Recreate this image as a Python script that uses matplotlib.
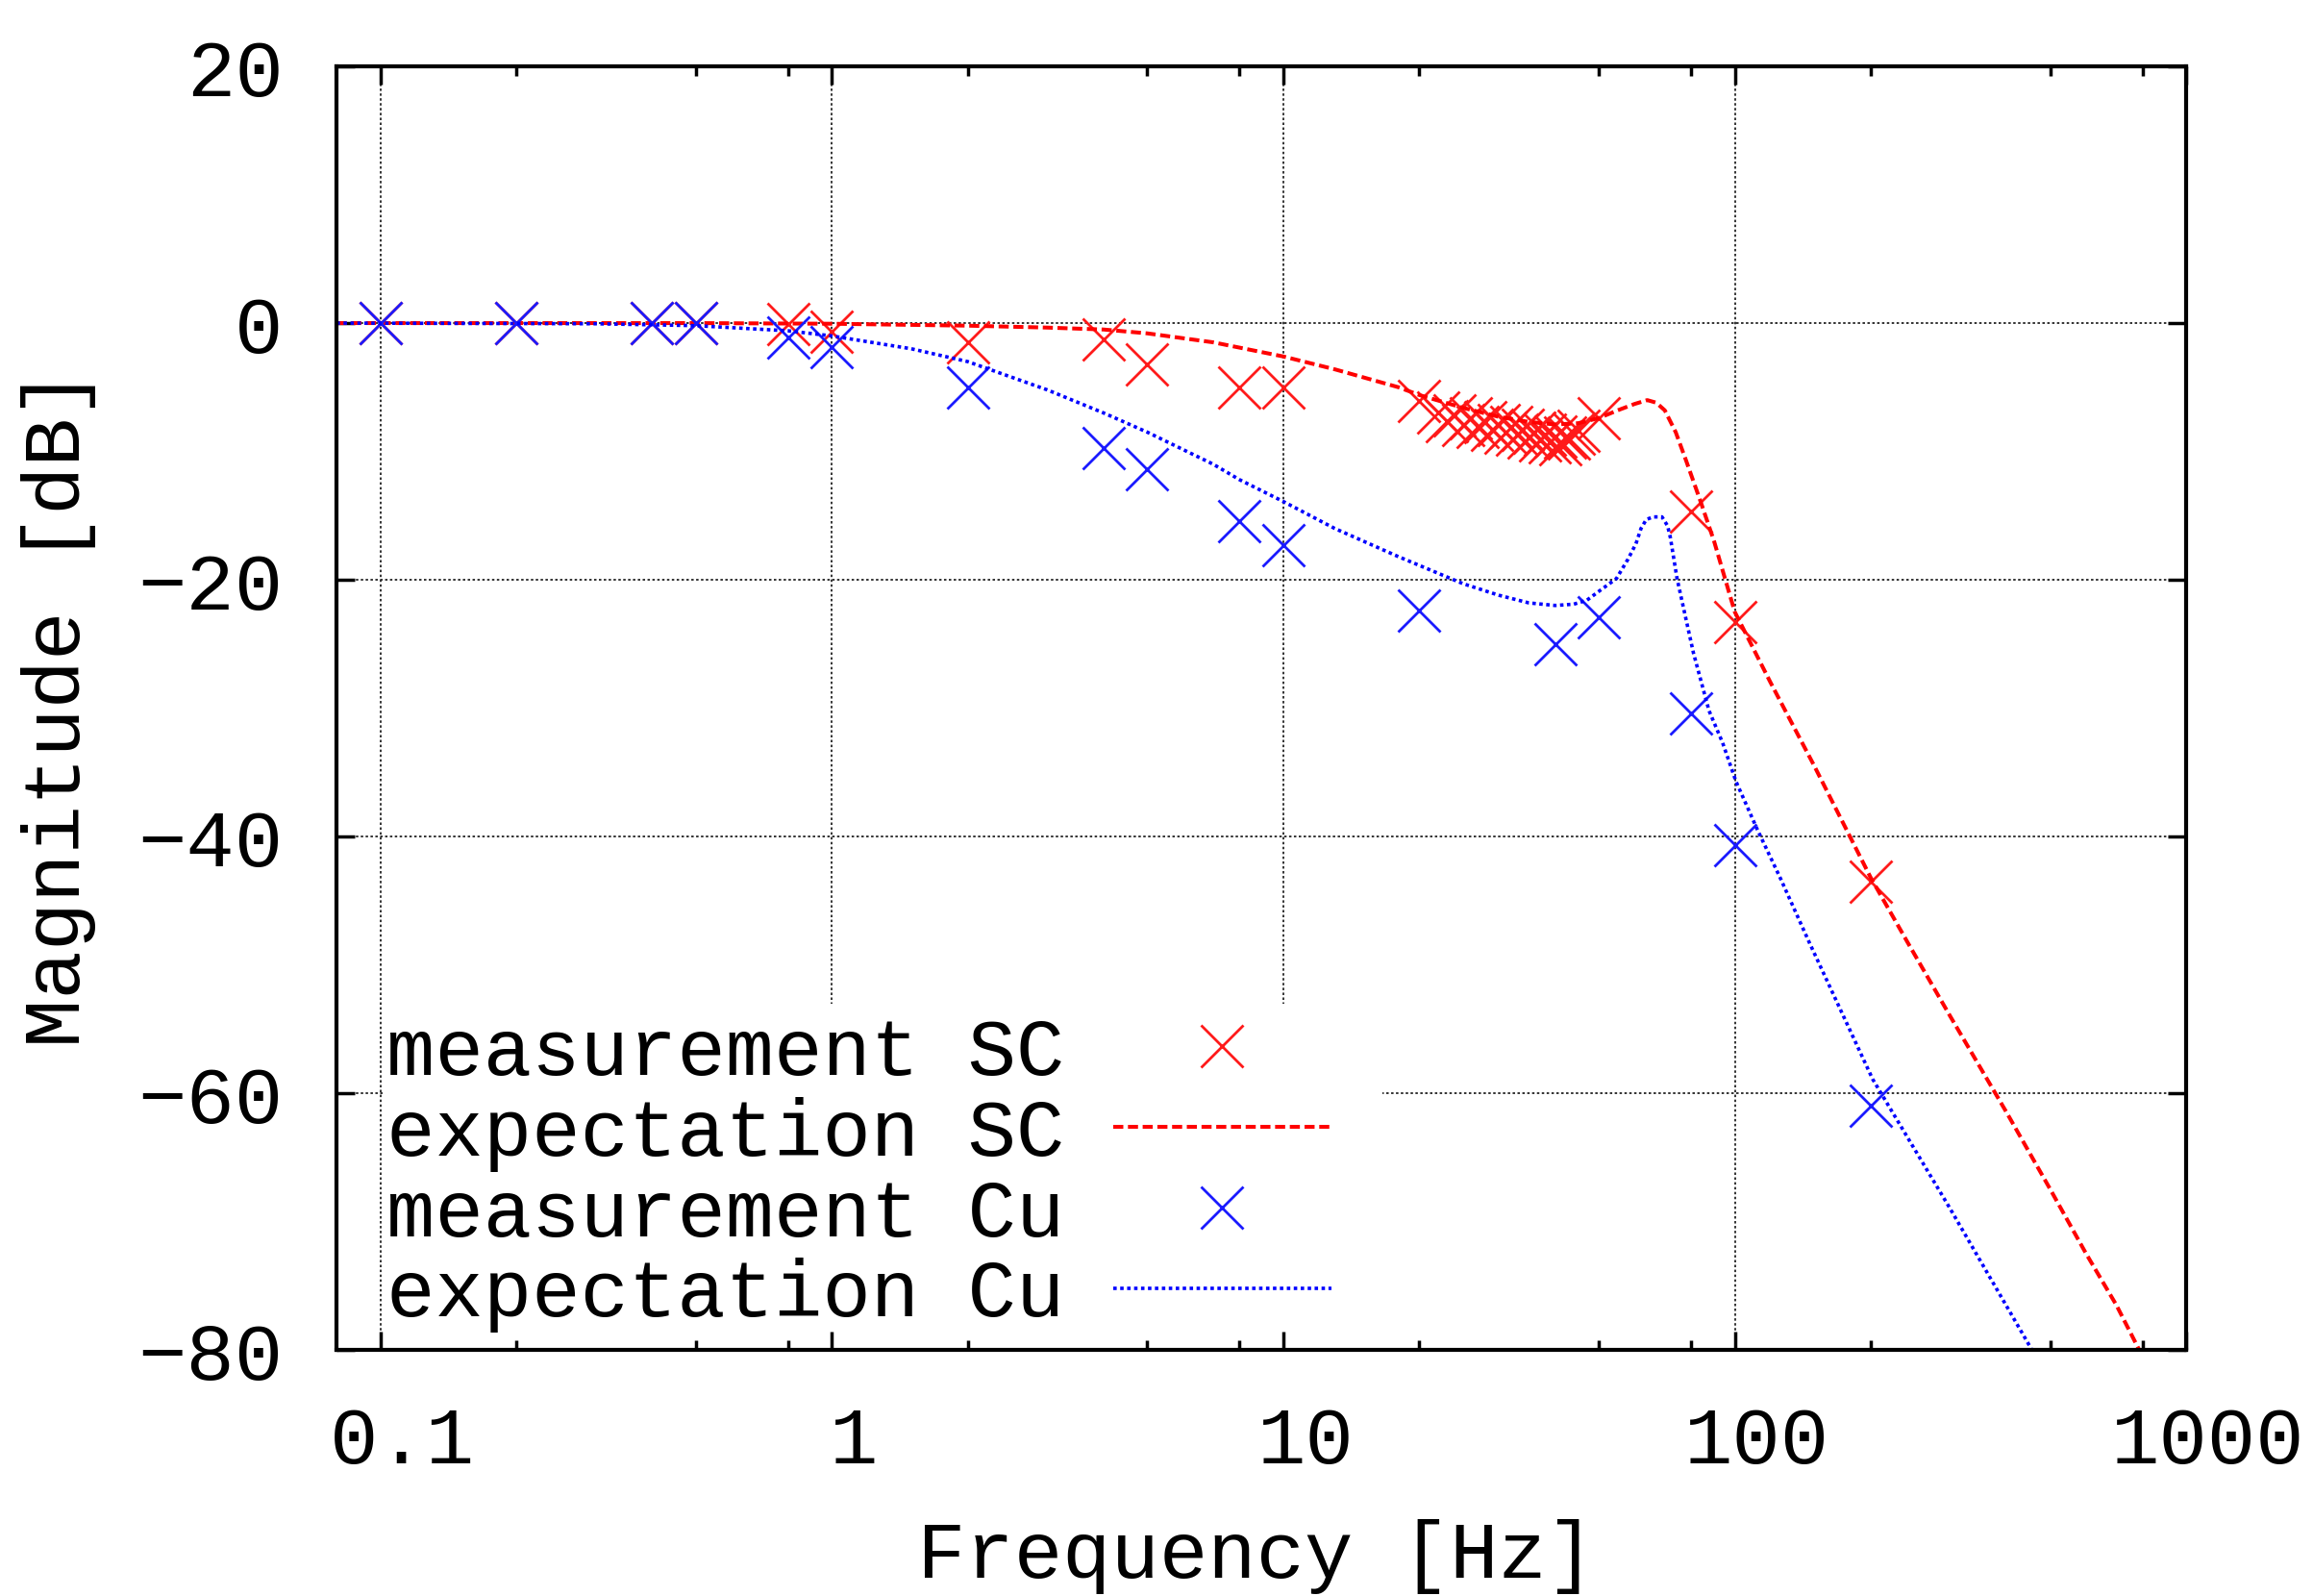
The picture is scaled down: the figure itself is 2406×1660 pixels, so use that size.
import matplotlib.pyplot as plt
from matplotlib.patches import Rectangle
from matplotlib.ticker import FixedLocator, FixedFormatter, NullFormatter
from matplotlib.transforms import ScaledTranslation

# ------------------------------------------------------------------
# data (frequency in Hz, magnitude in dB)
# ------------------------------------------------------------------
sc_meas_f = [0.1, 0.2, 0.4, 0.5, 0.8, 1, 2, 4, 5, 8, 10, 20,
             22, 23, 24, 25, 26, 27, 28, 29, 30, 31, 32, 33,
             34, 35, 36, 37, 38, 39, 40, 41, 42, 43, 44, 45,
             50, 80, 100, 200]
sc_meas_db = [0.0, 0.0, 0.0, 0.0, -0.1, -0.7, -1.5, -1.25, -3.25, -5.0, -5.0, -6.1,
              -7.0, -7.6, -7.2, -7.9, -7.4, -8.1, -7.7, -8.3, -7.9, -8.5, -8.1, -8.7,
              -8.3, -8.9, -8.5, -9.1, -8.7, -9.3, -8.8, -9.4, -8.9, -9.0, -8.6, -8.4,
              -7.4, -14.7, -23.3, -43.5]

sc_exp_f = [0.08, 0.5, 1, 2, 3, 4, 5, 7, 10, 13, 18, 20, 25, 30, 35, 40, 45,
            50, 55, 60, 64, 67, 70, 74, 78, 84, 90, 100, 120, 150, 200, 241,
            300, 400, 500, 600, 700, 800]
sc_exp_db = [0.0, 0.0, -0.05, -0.2, -0.35, -0.5, -0.8, -1.5, -2.6, -3.6, -5.0, -5.6,
             -6.6, -7.3, -7.7, -7.9, -7.8, -7.4, -6.8, -6.3, -6.0, -6.2, -6.8, -8.5,
             -10.7, -13.9, -17.0, -22.5, -28.0, -34.5, -43.2, -48.2, -54.0, -61.5,
             -67.5, -72.5, -76.5, -80.5]

cu_meas_f = [0.1, 0.2, 0.4, 0.5, 0.8, 1, 2, 4, 5, 8, 10, 20, 40, 50, 80, 100, 200]
cu_meas_db = [0.0, 0.0, 0.0, 0.0, -1.1, -1.9, -5.0, -9.75, -11.4, -15.4, -17.3,
              -22.4, -25.0, -22.9, -30.4, -40.7, -61.0]

cu_exp_f = [0.08, 0.3, 0.5, 0.8, 1, 1.5, 2, 3, 4, 5, 7, 8, 10, 13, 18, 25, 30,
            35, 40, 44, 47, 50, 54.7, 58, 60.4, 62, 63.7, 66, 69, 71, 72, 74.5,
            81, 87.7, 94, 100.6, 112, 126, 146, 202, 300, 450, 500]
cu_exp_db = [0.0, -0.05, -0.2, -0.6, -1.0, -2.0, -3.0, -5.2, -7.0, -8.5, -11.0,
             -12.2, -13.9, -16.0, -18.2, -20.3, -21.2, -21.8, -22.0, -21.9, -21.6,
             -20.9, -19.9, -18.4, -17.2, -16.0, -15.3, -15.1, -15.1, -15.8, -16.7,
             -19.9, -25.7, -30.2, -32.7, -35.7, -39.4, -43.2, -48.2, -58.9, -69.0,
             -79.7, -82.5]

xtick_vals = [0.1, 1, 10, 100, 1000]
xtick_labels = ['0.1', '1', '10', '100', '1000']
ytick_vals = [-80, -60, -40, -20, 0, 20]
ytick_labels = ['\u221280', '\u221260', '\u221240', '\u221220', '0', '20']

# ------------------------------------------------------------------
plt.rcParams['font.family'] = ['Liberation Mono', 'DejaVu Sans Mono']
FS = 60.5

fig = plt.figure(figsize=(24.06, 16.60), dpi=100)
ax = fig.add_axes([0.1455, 0.1542, 0.7997, 0.8042])

ax.set_xscale('log')
ax.set_xlim(0.08, 1000)
ax.set_ylim(-80, 20)

# grid (gnuplot style dotted), drawn under the legend box
grid_kw = dict(color='0.2', lw=1.4, dashes=(1.3, 1.3), zorder=0.5)
for xv in xtick_vals[:-1]:
    ax.axvline(xv, **grid_kw)
for yv in ytick_vals[1:-1]:
    ax.axhline(yv, **grid_kw)

# opaque key area
ax.add_patch(Rectangle((0.025, 0.0), 0.5405, 0.270, transform=ax.transAxes,
                       facecolor='white', edgecolor='none', zorder=1))

ax.plot(sc_meas_f, sc_meas_db, linestyle='none', marker='x', ms=31, mew=2.0,
        color='#ff1a1a', label='measurement SC', zorder=3)
ax.plot(sc_exp_f, sc_exp_db, color='#ff0000', lw=2.9, dashes=(2.6, 1.2),
        label='expectation SC', zorder=3)
ax.plot(cu_meas_f, cu_meas_db, linestyle='none', marker='x', ms=31, mew=2.0,
        color='#1a1aff', label='measurement Cu', zorder=3)
ax.plot(cu_exp_f, cu_exp_db, color='#0000ff', lw=2.6, dashes=(1.0, 1.0),
        label='expectation Cu', zorder=3)

# ticks
ax.xaxis.set_major_locator(FixedLocator(xtick_vals))
ax.xaxis.set_major_formatter(FixedFormatter(xtick_labels))
minor = [m * 10.0 ** k for k in range(-1, 3) for m in (2, 5, 8)]
ax.xaxis.set_minor_locator(FixedLocator(minor))
ax.xaxis.set_minor_formatter(NullFormatter())
ax.yaxis.set_major_locator(FixedLocator(ytick_vals))
ax.yaxis.set_major_formatter(FixedFormatter(ytick_labels))
ax.yaxis.set_minor_locator(FixedLocator([]))

ax.tick_params(which='both', direction='in', top=True, right=True,
               width=2.5, colors='black', labelsize=FS)
ax.tick_params(which='major', length=14)
ax.tick_params(which='minor', length=7)
ax.tick_params(axis='y', pad=40)
ax.tick_params(axis='x', pad=41)

# gnuplot's courier labels sit a little right of the tick
shift = ScaledTranslation(16.5 / 72, 0, fig.dpi_scale_trans)
for lab in ax.get_xticklabels():
    lab.set_transform(lab.get_transform() + shift)

for sp in ax.spines.values():
    sp.set_linewidth(3.0)
    sp.set_zorder(4)

ax.set_xlabel('Frequency [Hz]', fontsize=FS)
ax.set_ylabel('Magnitude [dB]', fontsize=FS)
ax.xaxis.label.set_va('center')
ax.yaxis.label.set_va('center')
ax.xaxis.set_label_coords(0.497, -0.161)
ax.yaxis.set_label_coords(-0.150, 0.5)

leg = ax.legend(loc='center left', bbox_to_anchor=(0.027, 0.1366),
                frameon=False, fontsize=FS, markerfirst=False, numpoints=1,
                handlelength=2.7, handletextpad=0.6, labelspacing=0.07,
                borderpad=0.0, borderaxespad=0.0)
leg.set_zorder(5)

fig.savefig('out.png', dpi=100)
